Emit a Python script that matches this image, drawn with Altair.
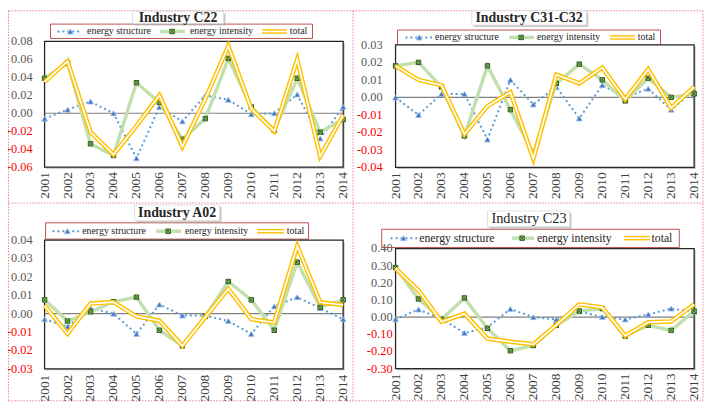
import altair as alt
import pandas as pd

# ---------------- data ----------------
years = list(range(2001, 2015))

c22_structure = [-0.006, 0.004, 0.013, 0.000, -0.050, 0.007, -0.009, 0.020, 0.015, -0.001, 0.000, 0.021, -0.028, 0.007]
c22_intensity = [0.039, 0.056, -0.034, -0.047, 0.034, 0.012, -0.029, -0.006, 0.061, 0.007, -0.019, 0.039, -0.021, -0.007]
c22_total = [0.035, 0.058, -0.021, -0.046, -0.014, 0.020, -0.037, 0.016, 0.075, 0.005, -0.020, 0.060, -0.048, -0.002]

c3132_structure = [0.000, -0.010, 0.002, 0.002, -0.024, 0.010, -0.004, 0.006, -0.012, 0.007, 0.000, 0.005, -0.007, 0.004]
c3132_intensity = [0.018, 0.020, 0.006, -0.022, 0.018, -0.007, -0.032, 0.008, 0.019, 0.010, -0.002, 0.011, 0.000, 0.002]
c3132_total = [0.018, 0.010, 0.007, -0.021, -0.005, 0.003, -0.035, 0.013, 0.008, 0.017, -0.001, 0.016, -0.006, 0.006]

a02_structure = [-0.003, -0.007, 0.003, 0.000, -0.011, 0.005, -0.001, -0.001, -0.004, -0.011, 0.004, 0.009, 0.003, -0.003]
a02_intensity = [0.0075, -0.004, 0.001, 0.0065, 0.009, -0.009, -0.0175, -0.0015, 0.0175, 0.0075, -0.009, 0.028, 0.0035, 0.0075]
a02_total = [0.0045, -0.011, 0.0055, 0.0063, -0.0015, -0.0038, -0.0175, -0.0018, 0.0135, -0.003, -0.0048, 0.0368, 0.0062, 0.0047]

c23_structure = [-0.012, 0.045, -0.010, -0.092, -0.060, 0.048, 0.000, -0.013, 0.033, 0.001, -0.013, 0.016, 0.050, 0.032]
c23_intensity = [0.289, 0.106, -0.012, 0.112, -0.065, -0.196, -0.165, -0.047, 0.036, 0.050, -0.110, -0.047, -0.077, 0.035]
c23_total = [0.285, 0.155, -0.027, 0.020, -0.125, -0.143, -0.158, -0.045, 0.075, 0.057, -0.108, -0.030, -0.025, 0.075]

c22_ticks = [0.08, 0.06, 0.04, 0.02, 0.00, -0.02, -0.04, -0.06]
c22_tick_labels = ["0.08", "0.06", "0.04", "0.02", "0.00", "-0.02", "-0.04", "-0.06"]
c3132_ticks = [0.03, 0.02, 0.01, 0.00, -0.01, -0.02, -0.03, -0.04]
c3132_tick_labels = ["0.03", "0.02", "0.01", "0.00", "-0.01", "-0.02", "-0.03", "-0.04"]
a02_ticks = [0.04, 0.03, 0.02, 0.01, 0.00, -0.01, -0.02, -0.03]
a02_tick_labels = ["0.04", "0.03", "0.02", "0.01", "0.00", "-0.01", "-0.02", "-0.03"]
c23_ticks = [0.40, 0.30, 0.20, 0.10, 0.00, -0.10, -0.20, -0.30]
c23_tick_labels = ["0.40", "0.30", "0.20", "0.10", "0.00", "-0.10", "-0.20", "-0.30"]

series_names = ["energy structure", "energy intensity", "total"]

# ---------------- style ----------------
FONT = "Liberation Serif, 'Times New Roman', Times, serif"
OFF = 8  # page margin


def px(v):
    return v - OFF


BLUE_LINE = "#5b9bd5"
BLUE_MARK = "#4472c4"
GREEN_LINE = "#c2e0ae"
GREEN_FILL = "#9ccc7c"
GREEN_STROKE = "#2f5f1c"
GOLD = "#ffc000"
XSHAPE = "M-1,-1L1,-1L1,1L-1,1Z M-1,-1L1,1 M-1,1L1,-1"

one = pd.DataFrame({"k": [0]})


def text_at(txt, x, y, size, weight="normal", color="#000000", align="left"):
    return alt.Chart(one).mark_text(
        text=txt, font=FONT, fontSize=size, fontWeight=weight, color=color,
        align=align, baseline="middle"
    ).encode(x=alt.value(px(x)), y=alt.value(px(y)))


def rect_at(x0, y0, x1, y1, fill, stroke, sw, fill_opacity=1.0):
    return alt.Chart(one).mark_rect(
        fill=fill, fillOpacity=fill_opacity, stroke=stroke, strokeWidth=sw
    ).encode(x=alt.value(px(x0)), x2=alt.value(px(x1)),
             y=alt.value(px(y0)), y2=alt.value(px(y1)))


def hrule(x0, x1, y, color, width, dash=None, opacity=1.0):
    kw = dict(color=color, strokeWidth=width, opacity=opacity)
    if dash is not None:
        kw["strokeDash"] = dash
    return alt.Chart(one).mark_rule(**kw).encode(
        x=alt.value(px(x0)), x2=alt.value(px(x1)), y=alt.value(px(y)))


def vrule(x, y0, y1, color, width, dash=None):
    kw = dict(color=color, strokeWidth=width)
    if dash is not None:
        kw["strokeDash"] = dash
    return alt.Chart(one).mark_rule(**kw).encode(
        x=alt.value(px(x)), y=alt.value(px(y0)), y2=alt.value(px(y1)))


def point_at(x, y, shape, size, fill, stroke):
    return alt.Chart(one).mark_point(
        shape=shape, size=size, filled=True, fill=fill, stroke=stroke,
        strokeWidth=1, opacity=1
    ).encode(x=alt.value(px(x)), y=alt.value(px(y)))


def panel(structure, intensity, total, ticks, tick_labels, lo, hi,
          x0, x1, ytop, ybot, ylab_x, xlab_gap):
    df = pd.DataFrame({"year": years, "structure": structure,
                       "intensity": intensity, "total": total})
    xs = alt.Scale(domain=[2001, 2014], range=[px(x0), px(x1)], nice=False, zero=False)
    ys = alt.Scale(domain=[lo, hi], range=[px(ybot), px(ytop)], nice=False, zero=False)
    X = alt.X("year:Q", scale=xs, axis=None)

    shadow = rect_at(x0 + 1.5, ytop + 1.5, x1 + 1.5, ybot + 1.5, "#bfbfbf", "#bfbfbf", 0)
    box = rect_at(x0, ytop, x1, ybot, "#ffffff", "#262626", 1.3)
    zero = alt.Chart(pd.DataFrame({"v": [0.0]})).mark_rule(
        color="#808080", strokeWidth=1.2
    ).encode(y=alt.Y("v:Q", scale=ys, axis=None),
             x=alt.value(px(x0)), x2=alt.value(px(x1)))

    base = alt.Chart(df).encode(x=X)
    s_line = base.mark_line(color=BLUE_LINE, strokeWidth=2, strokeDash=[2, 3]).encode(
        y=alt.Y("structure:Q", scale=ys, axis=None))
    s_pts = base.mark_point(shape="triangle-up", filled=True, size=34, fill=BLUE_MARK,
                            stroke="#9dc3e6", strokeWidth=0.8, opacity=1).encode(
        y=alt.Y("structure:Q", scale=ys, axis=None))
    i_line = base.mark_line(color=GREEN_LINE, strokeWidth=3.5).encode(
        y=alt.Y("intensity:Q", scale=ys, axis=None))
    i_pts = base.mark_point(shape=XSHAPE, filled=True, size=20, fill=GREEN_FILL,
                            stroke=GREEN_STROKE, strokeWidth=1, opacity=1).encode(
        y=alt.Y("intensity:Q", scale=ys, axis=None))
    t_line = base.mark_line(color=GOLD, strokeWidth=4.6).encode(
        y=alt.Y("total:Q", scale=ys, axis=None))
    t_inner = base.mark_line(color="#ffffff", strokeWidth=1.7).encode(
        y=alt.Y("total:Q", scale=ys, axis=None))

    tdf = pd.DataFrame({"v": ticks, "lab": tick_labels})
    ylabels = alt.Chart(tdf).mark_text(
        font=FONT, fontSize=12.5, align="right", baseline="middle"
    ).encode(
        y=alt.Y("v:Q", scale=ys, axis=None),
        x=alt.value(px(ylab_x)),
        text="lab:N",
        color=alt.condition("datum.v < 0", alt.value("#ff0000"), alt.value("#595959")),
    )
    ydf = pd.DataFrame({"year": years, "lab": [str(y) for y in years]})
    xlabels = alt.Chart(ydf).mark_text(
        font=FONT, fontSize=13.5, angle=270, align="right", baseline="middle",
        color="#404040"
    ).encode(x=X, y=alt.value(px(ybot + xlab_gap)), text="lab:N")

    return alt.layer(shadow, box, zero, s_line, s_pts, i_line, i_pts, t_line, t_inner,
                     ylabels, xlabels)


def title_box(txt, cx, cy, bx0, by0, bx1, by1, size, weight):
    return [
        rect_at(bx0 + 2, by0 + 2, bx1 + 2, by1 + 2, "#a6a6a6", "#a6a6a6", 0, 0.6),
        rect_at(bx0, by0, bx1, by1, "#ffffff", "#d9d9d9", 0.8),
        text_at(txt, cx, cy, size, weight=weight, color="#262626", align="center"),
    ]


def legend(bx0, by0, bx1, by1, ty, b, t1, g, t2, yl, t3, fsize):
    return [
        rect_at(bx0, by0, bx1, by1, "#ffffff", "#c0504d", 1),
        hrule(b[0], b[1], ty, BLUE_LINE, 2, dash=[2, 3]),
        point_at(b[2], ty, "triangle-up", 34, BLUE_MARK, "#9dc3e6"),
        text_at(series_names[0], t1, ty, fsize, color="#262626"),
        hrule(g[0], g[1], ty, GREEN_LINE, 3.5),
        point_at(g[2], ty, XSHAPE, 20, GREEN_FILL, GREEN_STROKE),
        text_at(series_names[1], t2, ty, fsize, color="#262626"),
        hrule(yl[0], yl[1], ty, GOLD, 4.6),
        hrule(yl[0], yl[1], ty, "#ffffff", 1.7),
        text_at(series_names[2], t3, ty, fsize, color="#262626"),
    ]


p1 = panel(c22_structure, c22_intensity, c22_total, c22_ticks, c22_tick_labels,
           -0.06, 0.08, 45, 347, 39.5, 166.7, 33, 5)
p2 = panel(c3132_structure, c3132_intensity, c3132_total, c3132_ticks, c3132_tick_labels,
           -0.04, 0.03, 400, 702, 43, 167, 387, 5)
p3 = panel(a02_structure, a02_intensity, a02_total, a02_ticks, a02_tick_labels,
           -0.03, 0.04, 45, 347, 240.5, 370.7, 33, 6)
p4 = panel(c23_structure, c23_intensity, c23_total, c23_ticks, c23_tick_labels,
           -0.30, 0.40, 400, 702, 249, 370.5, 397, 5)

deco = []
PINK = "#e8849a"
deco += [
    vrule(357, 8.5, 403, PINK, 1, dash=[1.5, 1.5]),
    vrule(711, 8.5, 403, PINK, 1, dash=[1.5, 1.5]),
    vrule(8.5, 8.5, 403, PINK, 1, dash=[1.5, 1.5]),
    hrule(8.5, 711, 203, PINK, 1, dash=[1.5, 1.5]),
    hrule(8.5, 711, 403, PINK, 1, dash=[1.5, 1.5]),
    hrule(8.5, 711, 8.5, PINK, 1, dash=[1.5, 1.5]),
]
# legends
deco += legend(51, 22, 316, 36.5, 29.5, (58, 83, 71), 88, (162, 187, 174), 192, (265, 290), 293, 10)
deco += legend(402, 28, 668, 43, 35.5, (410, 437, 424), 440, (515, 540, 527), 543, (617, 642), 645, 10)
deco += legend(46, 223, 312, 239.5, 231.5, (53, 82, 68), 83, (158, 183, 170), 187, (260, 287), 290, 10)
deco += legend(386, 229.5, 687, 248, 238.5, (395, 422, 408), 424, (518, 540, 528), 543, (631, 657), 659, 11.8)
# titles
deco += title_box("Industry C22", 180, 15.5, 134, 9, 226, 21.5, 14, "bold")
deco += title_box("Industry C31-C32", 535, 15.5, 477, 8.5, 593, 23, 14, "bold")
deco += title_box("Industry A02", 179, 213, 136, 205, 222, 221, 14, "bold")
deco += title_box("Industry C23", 535, 219, 493, 211, 576, 227, 14.5, "normal")

chart = alt.layer(*deco, p1, p2, p3, p4).resolve_scale(
    x="independent", y="independent"
).properties(
    width=705, height=399,
    autosize=alt.AutoSizeParams(type="none"),
    padding=0,
    background="#ffffff",
).configure_view(stroke=None)

chart.save("out.html", embed_options={"renderer": "svg", "actions": False})
